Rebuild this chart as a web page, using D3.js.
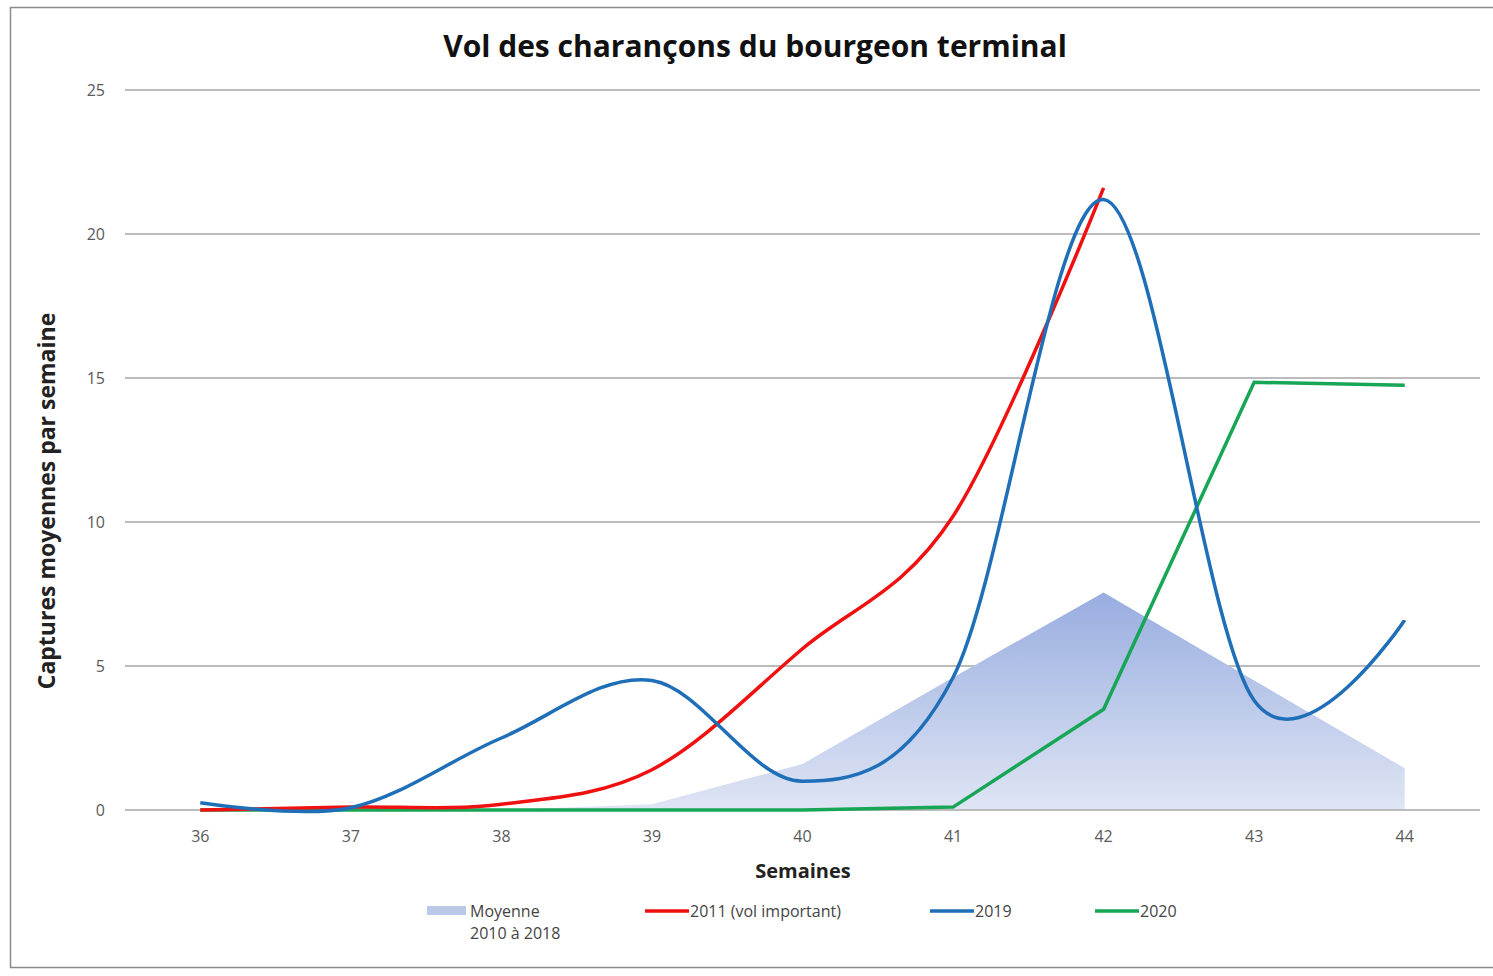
<!DOCTYPE html>
<html>
<head>
<meta charset="utf-8">
<style>
  body { margin: 0; background: #fff; }
  svg { display: block; font-family: "Open Sans", "Liberation Sans", sans-serif; }
</style>
</head>
<body>
<svg width="1493" height="976"></svg>
<script src="https://d3js.org/d3.v7.min.js"></script>
<script>

var weeks = [36, 37, 38, 39, 40, 41, 42, 43, 44];
var moyenne = [0, 0, 0, 0.2, 1.6, 4.6, 7.55, 4.5, 1.45];
var vol2011 = [0, 0.1, 0.2, 1.4, 5.6, 10.2, 21.6];
var vol2019 = [0.25, 0.08, 2.5, 4.5, 1.0, 4.6, 21.2, 3.8, 6.6];
var vol2020 = [0, 0, 0, 0, 0, 0.1, 3.5, 14.85, 14.75];
var yTicks = [0, 5, 10, 15, 20, 25];

var svg = d3.select("svg");

// cadre
svg.append("rect")
    .attr("x", 10.5).attr("y", 7.5)
    .attr("width", 1490).attr("height", 960)
    .attr("fill", "none")
    .attr("stroke", "#8c8c8c")
    .attr("stroke-width", 1.5);

var x = d3.scaleBand()
    .domain(weeks)
    .range([125, 1480]);

var y = d3.scaleLinear()
    .domain([0, 25])
    .range([810, 90]);

function cx(d, i) { return x(weeks[i]) + x.bandwidth() / 2; }

// grille
svg.append("g")
    .selectAll("line")
    .data(yTicks)
    .enter().append("line")
    .attr("x1", 125).attr("x2", 1480)
    .attr("y1", function(d) { return y(d); })
    .attr("y2", function(d) { return y(d); })
    .attr("stroke", "#bcbcbc")
    .attr("stroke-width", 2);

// axe y
var yAxis = svg.append("g")
    .attr("transform", "translate(125,0)")
    .call(d3.axisLeft(y).tickValues(yTicks).tickSize(0).tickPadding(20));
yAxis.select(".domain").remove();
yAxis.selectAll("text")
    .attr("fill", "#595959")
    .style("font-size", "16px")
    .style("font-family", "\"Open Sans\", sans-serif");

// axe x
var xAxis = svg.append("g")
    .attr("transform", "translate(0,810)")
    .call(d3.axisBottom(x).tickSize(0).tickPadding(21));
xAxis.select(".domain").remove();
xAxis.selectAll("text")
    .attr("fill", "#595959")
    .style("font-size", "16px")
    .style("font-family", "\"Open Sans\", sans-serif");

// dégradé pour la moyenne
var defs = svg.append("defs");
var grad = defs.append("linearGradient")
    .attr("id", "gradMoy")
    .attr("x1", 0).attr("y1", 0).attr("x2", 0).attr("y2", 1);
grad.append("stop").attr("offset", "0%").attr("stop-color", "#98ade0");
grad.append("stop").attr("offset", "100%").attr("stop-color", "#dfe5f4");

var area = d3.area()
    .x(cx)
    .y0(y(0))
    .y1(function(d) { return y(d); });

svg.append("path")
    .datum(moyenne)
    .attr("fill", "url(#gradMoy)")
    .attr("d", area);

svg.append("line")
    .attr("x1", 125).attr("x2", 1480)
    .attr("y1", y(0)).attr("y2", y(0))
    .attr("stroke", "#bcbcbc")
    .attr("stroke-width", 2);

var smooth = d3.line().x(cx).y(function(d) { return y(d); })
    .curve(d3.curveCatmullRom.alpha(0));
var straight = d3.line().x(cx).y(function(d) { return y(d); });

svg.append("path")
    .datum(vol2020)
    .attr("fill", "none")
    .attr("stroke", "#17a556")
    .attr("stroke-width", 3.5)
    .attr("d", straight);

svg.append("path")
    .datum(vol2011)
    .attr("fill", "none")
    .attr("stroke", "#f01010")
    .attr("stroke-width", 3.5)
    .attr("d", smooth);

svg.append("path")
    .datum(vol2019)
    .attr("fill", "none")
    .attr("stroke", "#1f6fb8")
    .attr("stroke-width", 3.5)
    .attr("d", smooth);

// titres
svg.append("text")
    .attr("x", 755).attr("y", 57)
    .attr("text-anchor", "middle")
    .attr("font-weight", "bold")
    .style("font-size", "30px")
    .attr("fill", "#111")
    .text("Vol des charançons du bourgeon terminal");

svg.append("text")
    .attr("x", 803).attr("y", 878)
    .attr("text-anchor", "middle")
    .attr("font-weight", "bold")
    .style("font-size", "20px")
    .attr("fill", "#222")
    .text("Semaines");

svg.append("text")
    .attr("transform", "translate(55,501) rotate(-90)")
    .attr("text-anchor", "middle")
    .attr("font-weight", "bold")
    .style("font-size", "23px")
    .attr("fill", "#222")
    .text("Captures moyennes par semaine");

// légende
var leg = svg.append("g").style("font-size", "16px").attr("fill", "#444");
leg.append("rect")
    .attr("x", 427).attr("y", 906).attr("width", 39).attr("height", 9)
    .attr("fill", "#bcc8e8");
leg.append("text").attr("x", 470).attr("y", 917).text("Moyenne");
leg.append("text").attr("x", 470).attr("y", 939).text("2010 à 2018");

var legLines = [
    { x: 645, color: "#f01010", label: "2011 (vol important)" },
    { x: 930, color: "#1f6fb8", label: "2019" },
    { x: 1095, color: "#17a556", label: "2020" }
];
legLines.forEach(function(d) {
    leg.append("line")
        .attr("x1", d.x).attr("x2", d.x + 44)
        .attr("y1", 911).attr("y2", 911)
        .attr("stroke", d.color).attr("stroke-width", 3.5);
    leg.append("text").attr("x", d.x + 45).attr("y", 917).text(d.label);
});

</script>
</body>
</html>
